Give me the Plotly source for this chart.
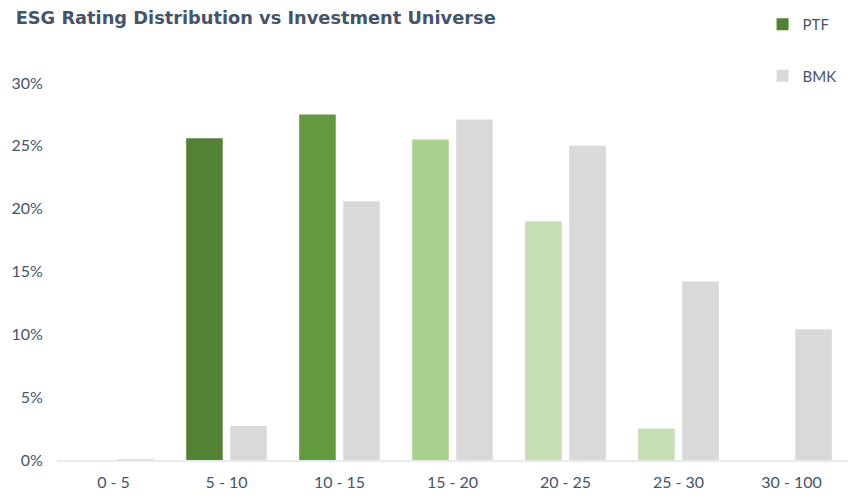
import plotly.graph_objects as go

categories = ["0 - 5", "5 - 10", "10 - 15", "15 - 20", "20 - 25", "25 - 30", "30 - 100"]
ptf_values = [0.0, 25.6, 27.5, 25.5, 19.0, 2.5, 0.0]
bmk_values = [0.05, 2.7, 20.6, 27.1, 25.0, 14.2, 10.4]
ptf_colors = ["#548235", "#548235", "#639A3F", "#A9D18E", "#C5E0B4", "#C5E0B4", "#C5E0B4"]
bmk_color = "#D9D9D9"
tick_vals = [0, 5, 10, 15, 20, 25, 30]
tick_text = ["0%", "5%", "10%", "15%", "20%", "25%", "30%"]

text_color = "#44546A"

fig = go.Figure()
fig.add_trace(go.Bar(
    x=categories, y=ptf_values, name="PTF",
    marker=dict(color=ptf_colors, line=dict(width=0)),
    legendgroup="ptf", hoverinfo="x+y",
))
fig.add_trace(go.Bar(
    x=categories, y=bmk_values, name="BMK",
    marker=dict(color=bmk_color, line=dict(width=0)),
    legendgroup="bmk", hoverinfo="x+y",
))

# the page body adds an 8px margin, so the figure is 8px smaller each way
fig.update_layout(
    width=854, height=487,
    margin=dict(l=49, r=14, t=75, b=35, autoexpand=False),
    paper_bgcolor="white", plot_bgcolor="white",
    barmode="group", bargap=0.22, bargroupgap=0.17,
    font=dict(family="Lato, 'Noto Sans', sans-serif", size=16, color=text_color),
    title=dict(
        text="<b>ESG Rating Distribution vs Investment Universe</b>",
        font=dict(family="'DejaVu Sans', sans-serif", size=17.8, color=text_color),
        x=0.009, xanchor="left", y=0.993, yanchor="top",
    ),
    legend=dict(
        x=0.892, xanchor="left", y=1.0, yanchor="top", yref="container",
        traceorder="grouped", tracegroupgap=29,
        font=dict(size=15, color=text_color),
        bgcolor="rgba(0,0,0,0)",
    ),
    showlegend=True,
)
fig.update_xaxes(
    showgrid=False, showline=True, linecolor="#E6EAF0", linewidth=2,
    ticks="outside", ticklen=7, tickcolor="rgba(0,0,0,0)",
    tickfont=dict(size=16, color=text_color),
)
fig.update_yaxes(
    range=[0, 30], tickvals=tick_vals, ticktext=tick_text,
    showgrid=False, zeroline=False, showline=False,
    ticks="outside", ticklen=10, tickcolor="rgba(0,0,0,0)",
    tickfont=dict(size=16, color=text_color),
)

fig.write_html("out.html")
